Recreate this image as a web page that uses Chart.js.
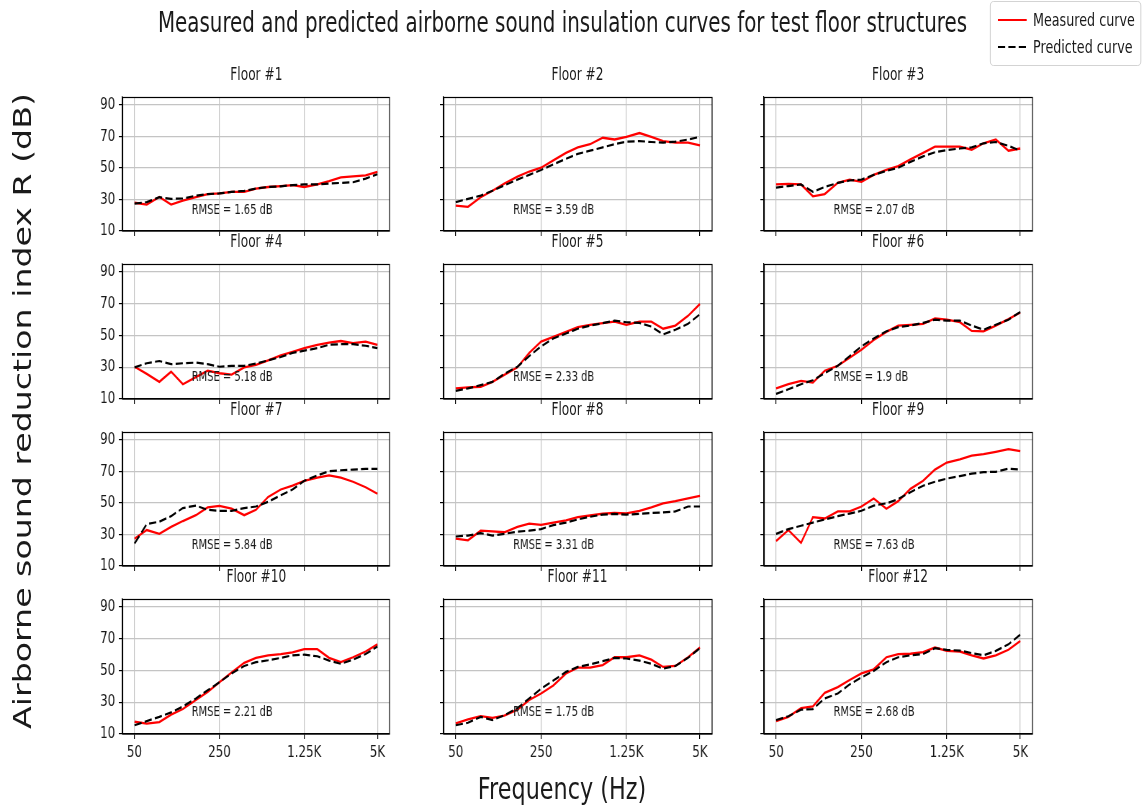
<!DOCTYPE html>
<html><head><meta charset="utf-8">
<script src="https://cdn.jsdelivr.net/npm/chart.js@4.4.1/dist/chart.umd.min.js"></script>
<style>
html,body{margin:0;padding:0;background:#fff;overflow:hidden;width:1146px;height:809px;}
#stage{position:absolute;left:0;top:0;height:809px;transform-origin:0 0;font-family:"DejaVu Sans",sans-serif;color:#1a1a1a;}
.t{position:absolute;white-space:nowrap;line-height:1;}
canvas{position:absolute;}
</style></head><body><div id="stage"></div>
<script>
// ---- data ----
const freqs = [50,63,80,100,125,160,200,250,315,400,500,630,800,1000,1250,1600,2000,2500,3150,4000,5000];
const tickFreqs = [50,250,1250,5000];
const tickLabels = ['50','250','1.25K','5K'];
const yTicks = [10,30,50,70,90];
const floorNames = ['Floor #1','Floor #2','Floor #3','Floor #4','Floor #5','Floor #6','Floor #7','Floor #8','Floor #9','Floor #10','Floor #11','Floor #12'];
const rmseTexts = ['RMSE = 1.65 dB','RMSE = 3.59 dB','RMSE = 2.07 dB','RMSE = 5.18 dB','RMSE = 2.33 dB','RMSE = 1.9 dB','RMSE = 5.84 dB','RMSE = 3.31 dB','RMSE = 7.63 dB','RMSE = 2.21 dB','RMSE = 1.75 dB','RMSE = 2.68 dB'];

const m1 = [27.9,26.7,31.6,26.7,29.3,31.4,33.4,33.8,34.8,34.8,36.9,37.9,38.5,39.1,37.9,39.5,41.6,44.0,44.6,45.2,47.5];
const p1 = [27.3,28.3,31.4,30.4,30.6,32.4,33.4,33.8,34.8,35.4,36.9,37.9,38.3,39.1,39.5,39.5,40.1,40.5,40.9,43.2,46.0];
const m2 = [26.1,25.3,31.4,35.5,40.0,44.5,47.7,50.1,54.8,59.5,63.0,65.0,69.1,68.0,69.7,72.1,69.7,67.0,66.0,66.0,64.2];
const p2 = [28.3,30.4,32.4,35.5,38.9,42.6,45.6,48.7,52.2,55.8,58.9,60.9,63.0,65.0,66.6,67.0,66.4,66.0,66.6,68.0,69.7];
const m3 = [39.5,39.9,39.5,32.0,33.4,40.5,42.6,41.2,45.6,48.7,51.1,55.4,59.5,63.5,63.5,63.5,61.5,65.6,68.0,60.9,62.3];
const p3 = [37.5,38.5,39.5,34.8,37.9,40.5,42.0,42.6,45.6,48.1,50.1,53.8,57.3,59.9,61.3,62.3,63.0,65.6,66.4,64.0,60.9];
const m4 = [30.3,25.8,20.8,27.2,19.3,23.8,27.8,26.2,25.4,29.9,31.5,34.3,37.4,39.6,42.0,44.1,45.5,46.5,45.1,46.1,44.1];
const p4 = [29.9,32.5,33.9,31.9,32.5,32.9,31.9,30.3,30.9,30.9,32.3,34.3,36.4,39.0,40.4,42.0,44.1,44.5,44.5,43.5,42.0];
const m5 = [16.7,17.3,17.7,20.8,25.2,29.9,39.0,46.1,49.1,52.2,55.2,56.7,57.7,58.7,56.7,58.7,58.7,54.2,56.2,62.3,69.8];
const p5 = [15.1,16.7,18.7,20.8,25.8,30.3,37.0,43.1,48.1,51.2,54.2,56.2,57.7,59.3,58.3,57.9,55.6,50.6,53.6,57.3,63.3];
const m6 = [16.7,19.3,21.4,20.3,27.8,30.9,36.0,41.0,47.1,52.2,56.2,56.7,57.3,60.7,59.9,58.3,52.8,52.6,56.2,60.3,64.4];
const p6 = [13.2,16.1,19.3,21.8,26.2,30.9,37.0,43.1,48.1,52.6,55.2,56.2,57.9,59.9,59.3,59.3,56.2,53.6,56.7,59.9,64.8];
const m7 = [27.3,32.8,30.4,34.8,38.5,42.2,47.1,48.1,46.3,42.2,45.6,53.8,58.5,60.9,64.0,66.0,67.4,66.0,63.4,59.9,55.8];
const p7 = [24.3,36.5,38.1,41.6,46.7,48.3,45.6,45.0,45.0,46.7,47.7,50.7,54.8,58.5,64.0,67.4,70.1,70.7,71.1,71.5,71.5];
const m8 = [27.3,26.3,32.4,32.0,31.4,34.8,36.9,36.1,37.5,38.9,41.0,42.0,43.2,43.6,43.4,45.0,47.1,49.7,51.1,52.8,54.4];
const p8 = [28.7,29.3,30.8,29.3,30.4,31.8,32.4,33.4,35.9,37.5,39.5,41.2,42.6,43.0,42.6,43.0,43.6,44.0,44.6,47.7,47.7];
const m9 = [25.9,32.8,24.7,41.0,40.1,44.6,44.6,47.7,52.8,46.3,51.1,58.9,64.0,71.1,75.6,77.6,79.9,80.9,82.4,84.1,82.8];
const p9 = [30.4,33.4,35.5,37.5,39.5,41.6,43.2,45.0,48.3,49.7,52.4,56.8,60.9,63.4,65.4,67.0,68.5,69.5,69.7,71.7,71.1];
const m10 = [17.7,16.5,17.5,22.2,25.7,31.4,36.5,42.6,48.7,54.8,57.9,59.5,60.3,61.3,63.4,63.4,57.9,55.2,58.3,61.9,66.4];
const p10 = [15.5,18.1,20.8,23.6,27.3,32.4,37.5,42.6,48.1,52.8,55.2,56.4,57.9,59.5,59.9,58.9,56.2,54.2,56.8,60.3,65.0];
const m11 = [16.7,19.2,21.2,20.2,21.6,25.3,31.4,35.5,40.5,48.1,51.8,51.8,53.4,58.3,58.3,59.5,56.8,52.2,52.8,58.3,64.4];
const p11 = [15.5,17.1,20.8,18.8,21.8,26.3,32.4,38.5,43.6,49.1,52.2,53.8,55.8,57.9,57.5,56.2,54.2,51.1,52.8,57.9,64.0];
const m12 = [18.1,20.8,26.3,27.3,35.9,39.5,44.0,48.1,50.7,58.3,60.3,60.5,61.5,64.4,62.3,61.9,59.5,57.5,59.5,63.0,68.5];
const p12 = [18.8,21.2,25.3,25.7,32.4,35.5,41.2,45.6,49.7,55.2,58.3,59.5,60.3,64.0,62.9,62.5,60.9,59.5,62.3,66.4,72.5];

const measuredSets = [m1,m2,m3,m4,m5,m6,m7,m8,m9,m10,m11,m12];
const predictedSets = [p1,p2,p3,p4,p5,p6,p7,p8,p9,p10,p11,p12];

// ---- layout ----
const S = 0.72;                 // horizontal squash of the figure
const W = 1146 / S;
const stage = document.getElementById('stage');
stage.style.width = W + 'px';
stage.style.transform = 'scaleX(' + S + ')';
const FONT = '"DejaVu Sans", sans-serif';

const colL = [122.7, 443.3, 764.0], colR = [390.0, 711.7, 1032.3];
const rowT = [92.3, 259.3, 427.3, 593.7], rowB = [231.7, 399.3, 566.7, 733.3];
const AX_L = 70, AX_B = 45, PAD = 10;

function addText(txt, left, top, size, extra) {
  const d = document.createElement('div');
  d.className = 't';
  d.textContent = txt;
  d.style.left = left + 'px';
  d.style.top = top + 'px';
  d.style.fontSize = size + 'px';
  if (extra) Object.assign(d.style, extra);
  stage.appendChild(d);
  return d;
}

// title, axis labels
addText('Measured and predicted airborne sound insulation curves for test floor structures', 562.5 / S, 9, 27.6, {transform: 'translateX(-50%)'});
addText('Frequency (Hz)', 562 / S, 773, 31, {transform: 'translateX(-50%)'});
addText('Airborne sound reduction index R (dB)', 22 / S, 411, 33.2, {transform: 'translate(-50%,-50%) rotate(-90deg)', transformOrigin: '50% 50%'});

// legend
const leg = document.createElement('div');
leg.style.cssText = 'position:absolute;box-sizing:border-box;border:1.3px solid #cccccc;border-radius:5px;background:#fff;';
leg.style.left = (990 / S) + 'px'; leg.style.top = '1px';
leg.style.width = ((1141 - 990) / S) + 'px'; leg.style.height = '65px';
stage.appendChild(leg);
const legItems = [['Measured curve', '#ff0000', ''], ['Predicted curve', '#000000', '10,4.5']];
legItems.forEach((it, i) => {
  const cy = 20 + i * 27;
  const svg = document.createElementNS('http://www.w3.org/2000/svg', 'svg');
  svg.setAttribute('width', '42'); svg.setAttribute('height', '6');
  svg.style.cssText = 'position:absolute;';
  svg.style.left = (998 / S) + 'px'; svg.style.top = (cy - 3) + 'px';
  const ln = document.createElementNS('http://www.w3.org/2000/svg', 'line');
  ln.setAttribute('x1', '0'); ln.setAttribute('x2', '40'); ln.setAttribute('y1', '3'); ln.setAttribute('y2', '3');
  ln.setAttribute('stroke', it[1]); ln.setAttribute('stroke-width', '2.2');
  if (it[2]) ln.setAttribute('stroke-dasharray', it[2]);
  svg.appendChild(ln);
  stage.appendChild(svg);
  addText(it[0], 1033 / S, cy - 8.5, 17.7);
});

const framePlugin = {
  id: 'frame',
  afterDatasetsDraw(chart) {
    const {ctx, chartArea: a} = chart;
    ctx.save();
    ctx.strokeStyle = '#000'; ctx.lineWidth = 1.2;
    ctx.strokeRect(Math.round(a.left) + 0.5, Math.round(a.top) + 0.5, Math.round(a.right - a.left) - 0.5, Math.round(a.bottom - a.top) - 0.5);
    ctx.restore();
  }
};
const rmsePlugin = {
  id: 'rmseLabel',
  afterDatasetsDraw(chart, args, opts) {
    if (!opts || !opts.text) return;
    const {ctx} = chart;
    const x = chart.scales.x.getPixelForValue(opts.x);
    const y = chart.scales.y.getPixelForValue(opts.y);
    ctx.save();
    ctx.font = '13.8px ' + FONT;
    ctx.fillStyle = '#1a1a1a';
    ctx.textAlign = 'left'; ctx.textBaseline = 'middle';
    ctx.fillText(opts.text, x, y);
    ctx.restore();
  }
};

for (let k = 0; k < 12; k++) {
  const r = Math.floor(k / 3), c = k % 3;
  const pl = colL[c] / S, pr = colR[c] / S, pt = rowT[r], pb = rowB[r];
  const cv = document.createElement('canvas');
  const left = Math.round(pl - AX_L), top = Math.round(pt - PAD);
  const w = Math.round(pr - pl) + AX_L + PAD, h = Math.round(pb - pt) + PAD + AX_B;
  cv.width = w; cv.height = h;
  cv.style.left = left + 'px'; cv.style.top = top + 'px';
  stage.appendChild(cv);

  addText(floorNames[k], (pl + pr) / 2, pt - 26, 16.9, {transform: 'translateX(-50%)'});

  const meas = measuredSets[k], pred = predictedSets[k];
  const gridOpts = {color: '#c4c4c4', lineWidth: 1.2, tickLength: 5, tickColor: '#000', tickWidth: 1.2, drawTicks: true};
  const borderOpts = {display: true, color: '#000', width: 1.2};
  new Chart(cv, {
    type: 'line',
    data: {
      datasets: [
        {label: 'Measured curve', data: freqs.map((f, i) => ({x: f, y: meas[i]})), borderColor: '#ff0000', borderWidth: 2.3, pointRadius: 0, fill: false, tension: 0, order: 2},
        {label: 'Predicted curve', data: freqs.map((f, i) => ({x: f, y: pred[i]})), borderColor: '#000000', borderWidth: 2.2, borderDash: [10, 4.5], pointRadius: 0, fill: false, tension: 0, order: 1}
      ]
    },
    plugins: [framePlugin, rmsePlugin],
    options: {
      responsive: false, animation: false, events: [],
      devicePixelRatio: 1,
      layout: {padding: {top: PAD, right: PAD, left: 0, bottom: 0}},
      plugins: {
        legend: {display: false}, tooltip: {enabled: false}, title: {display: false},
        rmseLabel: {text: rmseTexts[k], x: 147.6, y: 23.3}
      },
      scales: {
        x: {
          type: 'logarithmic', min: 50 / Math.pow(10, 0.1), max: 5000 * Math.pow(10, 0.1),
          afterBuildTicks: sc => { sc.ticks = tickFreqs.map(v => ({value: v})); },
          afterFit: sc => { sc.height = AX_B; },
          ticks: {autoSkip: false, maxRotation: 0, minRotation: 0, padding: 4, color: '#1a1a1a', font: {family: FONT, size: 16.5},
            callback: v => (r === 3 ? tickLabels[tickFreqs.indexOf(v)] : '')},
          grid: gridOpts, border: borderOpts
        },
        y: {
          type: 'linear', min: 10, max: 95,
          afterBuildTicks: sc => { sc.ticks = yTicks.map(v => ({value: v})); },
          afterFit: sc => { sc.width = AX_L; },
          ticks: {padding: 5, color: '#1a1a1a', font: {family: FONT, size: 16.5},
            callback: v => (c === 0 ? String(v) : '')},
          grid: gridOpts, border: borderOpts
        }
      }
    }
  });
}
</script></body></html>
